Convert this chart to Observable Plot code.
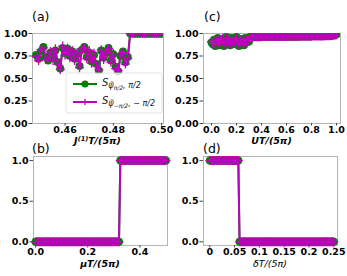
<!DOCTYPE html>
<html><head><meta charset="utf-8">
<script src="https://cdn.jsdelivr.net/npm/d3@7"></script>
<script src="https://cdn.jsdelivr.net/npm/@observablehq/plot@0.6"></script>
<style>
body{margin:0;background:#fff;}
#fig{position:relative;width:347px;height:276px;overflow:hidden;font-family:"DejaVu Sans";}
#fig > svg{position:absolute;}
</style></head><body><div id="fig"></div>
<script>
const GREEN = "#008000", MAGENTA = "#bf00bf";

// ---- panel (a): J(1)T/(5π), sampling start/step
const aStart = 0.448, aStep = 0.001;
const aGreen = [0.76,0.72,0.80,0.85,0.74,0.70,0.79,0.73,0.81,0.68,0.61,0.84,0.78,0.83,0.75,0.80,0.72,0.77,0.64,0.82,
  0.85,0.74,0.79,0.69,0.76,0.66,0.59,0.81,0.73,0.78,0.84,0.70,0.77,0.63,0.58,0.75,0.80,0.68,0.74,
  1,1,1,1,1,1,1,1,1,1,1,1,1,1,1];
const aMagenta = [0.74,0.70,0.82,0.84,0.71,0.73,0.80,0.70,0.83,0.66,0.60,0.86,0.76,0.84,0.73,0.81,0.70,0.79,0.62,0.83,
  0.84,0.72,0.81,0.67,0.78,0.64,0.60,0.82,0.71,0.79,0.83,0.68,0.78,0.61,0.59,0.76,0.79,0.66,0.72,
  1,1,1,1,1,1,1,1,1,1,1,1,1,1,1];
const aXTicks = [0.46, 0.48, 0.50], aXLabels = ["0.46", "0.48", "0.50"];
const aYTicks = [0, 0.25, 0.5, 0.75, 1], aYLabels = ["0.00", "0.25", "0.50", "0.75", "1.00"];

// ---- panel (c): UT/(5π)
const cStart = 0, cStep = 0.01;
const cGreen = [0.90,0.88,0.93,0.86,0.91,0.95,0.87,0.92,0.89,0.94,0.86,0.90,0.96,0.88,0.92,0.87,0.95,0.90,0.93,0.88,
  0.96,0.91,0.86,0.94,0.89,0.92,0.87,0.95,0.90,0.93,0.91,
  0.965,0.965,0.965,0.965,0.965,0.965,0.965,0.965,0.965,0.965,
  0.966,0.966,0.966,0.966,0.966,0.966,0.966,0.966,0.966,0.966,
  0.967,0.967,0.967,0.967,0.967,0.967,0.967,0.967,0.967,0.967,
  0.968,0.968,0.968,0.968,0.968,0.968,0.968,0.968,0.968,0.968,
  0.970,0.970,0.970,0.970,0.970,0.970,0.970,0.970,0.970,0.970,
  0.972,0.972,0.972,0.972,0.972,0.972,0.972,0.972,0.972,0.972,
  0.975,0.975,0.975,0.975,0.975,0.978,0.981,0.984,0.987,0.990];
const cMagenta = [0.91,0.89,0.92,0.87,0.92,0.94,0.88,0.93,0.88,0.95,0.87,0.91,0.95,0.89,0.93,0.88,0.94,0.91,0.92,0.89,
  0.95,0.90,0.87,0.93,0.90,0.91,0.88,0.94,0.91,0.92,0.92,
  0.965,0.965,0.965,0.965,0.965,0.965,0.965,0.965,0.965,0.965,
  0.966,0.966,0.966,0.966,0.966,0.966,0.966,0.966,0.966,0.966,
  0.967,0.967,0.967,0.967,0.967,0.967,0.967,0.967,0.967,0.967,
  0.968,0.968,0.968,0.968,0.968,0.968,0.968,0.968,0.968,0.968,
  0.970,0.970,0.970,0.970,0.970,0.970,0.970,0.970,0.970,0.970,
  0.972,0.972,0.972,0.972,0.972,0.972,0.972,0.972,0.972,0.972,
  0.975,0.975,0.975,0.975,0.975,0.977,0.979,0.981,0.983,0.985];
const cXTicks = [0, 0.2, 0.4, 0.6, 0.8, 1], cXLabels = ["0.0", "0.2", "0.4", "0.6", "0.8", "1.0"];
const cYTicks = aYTicks, cYLabels = aYLabels;

// ---- panel (b): μT/(5π)
const bStart = 0, bStep = 0.005;
const bGreen = [0,0,0,0,0,0,0,0,0,0, 0,0,0,0,0,0,0,0,0,0, 0,0,0,0,0,0,0,0,0,0, 0,0,0,0,0,0,0,0,0,0,
  0,0,0,0,0,0,0,0,0,0, 0,0,0,0,0,0,0,0,0,0, 0,0,0,0,0,1,1,1,1,1, 1,1,1,1,1,1,1,1,1,1,
  1,1,1,1,1,1,1,1,1,1, 1,1,1,1,1,1,1,1,1,1, 1];
const bMagenta = bGreen.slice();
const bXTicks = [0, 0.2, 0.4], bXLabels = ["0.0", "0.2", "0.4"];
const bYTicks = [0, 0.5, 1], bYLabels = ["0.0", "0.5", "1.0"];

// ---- panel (d): δT/(5π)
const dStart = 0, dStep = 0.0025;
const dGreen = [1,1,1,1,1,1,1,1,1,1, 1,1,1,1,1,1,1,1,1,1, 1,1,1,1,0,0,0,0,0,0,
  0,0,0,0,0,0,0,0,0,0, 0,0,0,0,0,0,0,0,0,0, 0,0,0,0,0,0,0,0,0,0, 0,0,0,0,0,0,0,0,0,0,
  0,0,0,0,0,0,0,0,0,0, 0,0,0,0,0,0,0,0,0,0, 0,0,0,0,0,0,0,0,0,0, 0];
const dMagenta = dGreen.slice();
const dXTicks = [0, 0.05, 0.1, 0.15, 0.2, 0.25], dXLabels = ["0", "0.05", "0.1", "0.15", "0.2", "0.25"];
const dYTicks = bYTicks, dYLabels = bYLabels;

function series(start, step, ys) { return ys.map((y, i) => ({x: start + i * step, y})); }

const fig = document.getElementById("fig");

function panel(o) {
  const green = series(o.start, o.step, o.green), magenta = series(o.start, o.step, o.magenta);
  const lab = (ticks, labels) => d => labels[ticks.findIndex(t => Math.abs(t - d) < 1e-9)];
  const svg = Plot.plot({
    width: o.width, height: o.height,
    marginLeft: o.m[3], marginRight: o.m[1], marginTop: o.m[0], marginBottom: o.m[2],
    x: {domain: o.xDomain}, y: {domain: o.yDomain},
    style: {fontFamily: "DejaVu Sans", fontSize: "9.5px", fontWeight: "bold", color: "#000", background: "transparent", overflow: "visible"},
    marks: [
      Plot.frame({stroke: "#b5b5b5", strokeWidth: 1}),
      Plot.axisX({ticks: o.xTicks, tickFormat: lab(o.xTicks, o.xLabels), tickSize: 2.5, tickPadding: 0, label: null, stroke: "#444", fill: "#000"}),
      Plot.axisY({ticks: o.yTicks, tickFormat: lab(o.yTicks, o.yLabels), tickSize: 3.5, tickPadding: 1.5, label: null, stroke: "#444", fill: "#000"}),
      Plot.line(green, {x: "x", y: "y", stroke: GREEN, strokeWidth: 2, clip: o.clip}),
      Plot.dot(green, {x: "x", y: "y", r: 4, fill: GREEN, stroke: "none", clip: o.clip}),
      Plot.line(magenta, {x: "x", y: "y", stroke: MAGENTA, strokeWidth: 2, clip: o.clip}),
      Plot.dot(magenta, {x: "x", y: "y", r: 3, symbol: "plus", fill: "none", stroke: MAGENTA, strokeWidth: 1.3, clip: o.clip})
    ]
  });
  svg.style.left = o.left + "px"; svg.style.top = o.top + "px";
  fig.appendChild(svg);
}

panel({left: 0, top: 0, width: 170, height: 140, m: [33, 7, 17, 32],
  xDomain: [0.4465, 0.5008], yDomain: [0, 1], xTicks: aXTicks, xLabels: aXLabels, yTicks: aYTicks, yLabels: aYLabels,
  start: aStart, step: aStep, green: aGreen, magenta: aMagenta, clip: true});
panel({left: 170, top: 0, width: 177, height: 140, m: [33, 7, 17, 33],
  xDomain: [-0.064, 1.032], yDomain: [0, 1], xTicks: cXTicks, xLabels: cXLabels, yTicks: cYTicks, yLabels: cYLabels,
  start: cStart, step: cStep, green: cGreen, magenta: cMagenta, clip: true});
panel({left: 0, top: 135, width: 175, height: 141, m: [21, 8, 31, 33],
  xDomain: [-0.008, 0.506], yDomain: [-0.045, 1.05], xTicks: bXTicks, xLabels: bXLabels, yTicks: bYTicks, yLabels: bYLabels,
  start: bStart, step: bStep, green: bGreen, magenta: bMagenta, clip: false});
panel({left: 170, top: 135, width: 177, height: 141, m: [21, 10, 31, 33],
  xDomain: [-0.0127, 0.2574], yDomain: [-0.045, 1.05], xTicks: dXTicks, xLabels: dXLabels, yTicks: dYTicks, yLabels: dYLabels,
  start: dStart, step: dStep, green: dGreen, magenta: dMagenta, clip: false});

// ---- overlay: panel letters, axis labels, legend
const ov = d3.select(fig).append("svg").attr("width", 347).attr("height", 276)
  .style("left", "0px").style("top", "0px").attr("font-family", "DejaVu Sans");
[["(a)", 32, 21], ["(c)", 204, 21], ["(b)", 32, 153], ["(d)", 203, 153]].forEach(([t, x, y]) =>
  ov.append("text").attr("x", x).attr("y", y).attr("font-size", 12.5).text(t));

function xlabel(cx, y, parts, weight) {
  const t = ov.append("text").attr("x", cx).attr("y", y).attr("text-anchor", "middle")
    .attr("font-size", 9.5).attr("font-weight", weight).attr("font-style", "italic");
  parts.forEach(p => { const s = t.append("tspan").text(p.t); if (p.dy) s.attr("dy", p.dy); if (p.fs) s.attr("font-size", p.fs); });
}
xlabel(97.5, 144, [{t: "J"}, {t: "(1)", dy: -3.5, fs: 6.5}, {t: "T/(5π)", dy: 3.5}], "bold");
xlabel(271.5, 144, [{t: "UT/(5π)"}], "bold");
xlabel(100, 267, [{t: "μT/(5π)"}], "bold");
xlabel(270, 267, [{t: "δT/(5π)"}], "normal");

// legend
const lg = ov.append("g");
lg.append("rect").attr("x", 66).attr("y", 73).attr("width", 96).attr("height", 40).attr("rx", 2)
  .attr("fill", "#fff").attr("fill-opacity", 0.8).attr("stroke", "#dcdcdc").attr("stroke-width", 0.8);
lg.append("line").attr("x1", 73).attr("x2", 97).attr("y1", 84).attr("y2", 84).attr("stroke", GREEN).attr("stroke-width", 2);
lg.append("circle").attr("cx", 85).attr("cy", 84).attr("r", 3.5).attr("fill", GREEN);
lg.append("line").attr("x1", 73).attr("x2", 97).attr("y1", 102).attr("y2", 102).attr("stroke", MAGENTA).attr("stroke-width", 2);
lg.append("path").attr("d", "M85,99V105M82,102H88").attr("stroke", MAGENTA).attr("stroke-width", 1.3);
function legText(y, sub) {
  const t = lg.append("text").attr("x", 102).attr("y", y).attr("font-size", 10).attr("fill", "#222");
  t.append("tspan").attr("font-style", "italic").text("S");
  t.append("tspan").attr("font-size", 8).attr("dy", 2).attr("font-style", "italic").text("ψ\u0303");
  t.append("tspan").attr("font-size", 6).attr("dy", 1.5).attr("font-style", "italic").text(sub);
  t.append("tspan").attr("font-size", 8).attr("dy", -1.5).attr("font-style", "italic").text(", " + sub.replace("−", "− "));
}
legText(86, "π/2");
legText(104, "−π/2");
</script></body></html>
